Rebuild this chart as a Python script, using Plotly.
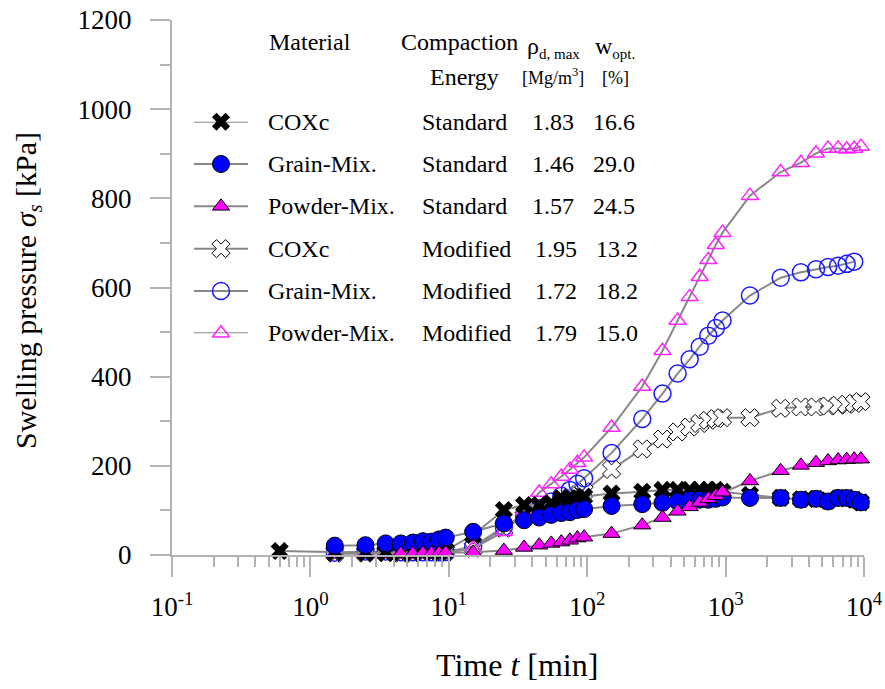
import plotly.graph_objects as go

# ---------------- data ----------------
time_coxc_std = [0.6, 1.5, 2.5, 3.5, 4.5, 5.5, 6.5, 7.5, 8.5, 9.5,
                 15, 25, 35, 45, 55, 65, 75, 85, 95,
                 150, 250, 350, 450, 550, 650, 750, 850, 950,
                 1500, 2500, 3500, 4500, 5500, 6500, 7500, 8500, 9500]
p_coxc_std = [9, 6, 5, 5, 6, 6, 7, 7, 8, 10,
              45, 101, 112, 112, 116, 127, 127, 127, 131,
              138, 142, 146, 146, 146, 146, 146, 146, 142,
              135, 128, 125, 126, 122, 127, 128, 124, 118]

time_grain_std = [1.5, 2.5, 3.5, 4.5, 5.5, 6.5, 7.5, 8.5, 9.5,
                  15, 25, 35, 45, 55, 65, 75, 85, 95,
                  150, 250, 350, 450, 550, 650, 750, 850, 950,
                  1500, 2500, 3500, 4500, 5500, 6500, 7500, 8500, 9500]
p_grain_std = [21, 22, 26, 26, 28, 31, 30, 35, 39,
               52, 71, 78, 84, 90, 94, 96, 101, 103,
               110, 114, 117, 120, 124, 124, 124, 126, 129,
               128, 128, 124, 126, 120, 128, 128, 124, 118]

time_powder_std = [4.5, 5.5, 6.5, 7.5, 8.5, 9.5,
                   15, 25, 35, 45, 55, 65, 75, 85, 95,
                   150, 250, 350, 450, 550, 650, 750, 850, 950,
                   1500, 2500, 3500, 4500, 5500, 6500, 7500, 8500, 9500]
p_powder_std = [3, 3, 4, 4, 4, 5,
                6, 10, 17, 22, 26, 29, 33, 38, 40,
                48, 67, 84, 98, 108, 118, 126, 133, 141,
                166, 189, 201, 207, 211, 213, 214, 215, 215]

time_coxc_mod = [1.5, 2.5, 3.5, 4.5, 5.5, 6.5, 7.5, 8.5, 9.5,
                 15, 25, 35, 45, 55, 65, 75, 85, 95,
                 150, 250, 350, 450, 550, 650, 750, 850, 950,
                 1500, 2500, 3500, 4500, 5500, 6500, 7500, 8500, 9500]
p_coxc_mod = [4, 4, 5, 4, 4, 5, 5, 6, 7,
              15, 60, 85, 100, 110, 120, 128, 135, 142,
              192, 238, 260, 276, 287, 295, 302, 306, 308,
              308, 329, 332, 332, 334, 336, 338, 340, 344]

time_grain_mod = [1.5, 2.5, 3.5, 4.5, 5.5, 6.5, 7.5, 8.5, 9.5,
                  15, 25, 35, 45, 55, 65, 75, 85, 95,
                  150, 250, 350, 450, 550, 650, 750, 850, 950,
                  1500, 2500, 3500, 4500, 5500, 6500, 7500, 8500]
p_grain_mod = [5, 8, 8, 6, 6, 6, 6, 6, 7,
               19, 63, 88, 105, 120, 133, 146, 160, 172,
               229, 305, 362, 407, 439, 467, 492, 509, 526,
               582, 622, 634, 641, 646, 649, 653, 658]

time_powder_mod = [1.5, 2.5, 3.5, 4.5, 5.5, 6.5, 7.5, 8.5, 9.5,
                   15, 25, 35, 45, 55, 65, 75, 85, 95,
                   150, 250, 350, 450, 550, 650, 750, 850, 950,
                   1500, 2500, 3500, 4500, 5500, 6500, 7500, 8500, 9500]
p_powder_mod = [3, 3, 3, 3, 3, 3, 4, 4, 5,
                15, 52, 100, 140, 159, 176, 192, 207, 219,
                286, 378, 458, 526, 579, 624, 662, 696, 723,
                806, 859, 880, 901, 912, 912, 910, 912, 916]

# legend table contents
materials = ["COXc", "Grain-Mix.", "Powder-Mix.", "COXc", "Grain-Mix.", "Powder-Mix."]
energies = ["Standard", "Standard", "Standard", "Modified", "Modified", "Modified"]
rho_dmax = ["1.83", "1.46", "1.57", "1.95", "1.72", "1.79"]
w_opt = ["16.6", "29.0", "24.5", "13.2", "18.2", "15.0"]

x_tickvals = [0.1, 1, 10, 100, 1000, 10000]
x_ticktext = ["10<sup>-1</sup>", "10<sup>0</sup>", "10<sup>1</sup>",
              "10<sup>2</sup>", "10<sup>3</sup>", "10<sup>4</sup>"]
y_tickvals = [0, 200, 400, 600, 800, 1000, 1200]

# ---------------- styling ----------------
FONT = "Liberation Serif"
AXIS_GRAY = "#b3b3b3"
LINE_GRAY = "#888888"

W, H = 885, 689
L, R, T, B = 172, 21, 20, 134
PW, PH = W - L - R, H - T - B


def px_x(p):
    return (p - L) / PW


def px_y(p):
    return (H - B - p) / PH


m_coxc_std = dict(symbol="x", size=16, color="black", line=dict(width=0))
m_grain_std = dict(symbol="circle", size=17, color="#0000ff", line=dict(color="black", width=1))
m_powder_std = dict(symbol="triangle-up", size=15, color="#ff00ff", line=dict(color="black", width=1))
m_coxc_mod = dict(symbol="x", size=16, color="white", line=dict(color="black", width=1))
m_grain_mod = dict(symbol="circle-open", size=17, color="#1a1aff", line=dict(width=1.5))
m_powder_mod = dict(symbol="triangle-up-open", size=15, color="#ff22ff", line=dict(width=1.5))

series = [
    (time_coxc_mod, p_coxc_mod, m_coxc_mod),
    (time_grain_mod, p_grain_mod, m_grain_mod),
    (time_powder_mod, p_powder_mod, m_powder_mod),
    (time_coxc_std, p_coxc_std, m_coxc_std),
    (time_grain_std, p_grain_std, m_grain_std),
    (time_powder_std, p_powder_std, m_powder_std),
]
legend_markers = [m_coxc_std, m_grain_std, m_powder_std, m_coxc_mod, m_grain_mod, m_powder_mod]

fig = go.Figure()
for t, p, m in series:
    fig.add_trace(go.Scatter(
        x=t, y=p, mode="lines+markers",
        line=dict(color=LINE_GRAY, width=2),
        marker=m, cliponaxis=False, showlegend=False,
    ))

# legend keys on a hidden overlay axis pair
for i, m in enumerate(legend_markers):
    fig.add_trace(go.Scatter(
        x=[0, 1], y=[i, i], mode="lines", line=dict(color=LINE_GRAY, width=2),
        xaxis="x2", yaxis="y2", showlegend=False, cliponaxis=False, hoverinfo="skip"))
    fig.add_trace(go.Scatter(
        x=[0.5], y=[i], mode="markers", marker=m,
        xaxis="x2", yaxis="y2", showlegend=False, cliponaxis=False, hoverinfo="skip"))

axis_common = dict(
    showline=True, linecolor=AXIS_GRAY, linewidth=2,
    ticks="outside", ticklen=20, tickwidth=2, tickcolor=AXIS_GRAY,
    showgrid=False, zeroline=False, automargin=False,
    tickfont=dict(family=FONT, size=27, color="black"),
)

fig.update_layout(
    template="none",
    width=W, height=H,
    margin=dict(l=L, r=R, t=T, b=B, autoexpand=False),
    paper_bgcolor="white", plot_bgcolor="white",
    font=dict(family=FONT, color="black"),
    xaxis=dict(
        type="log", range=[-1, 4],
        tickmode="array", tickvals=x_tickvals, ticktext=x_ticktext,
        minor=dict(tickmode="array",
                   tickvals=[k * 10 ** e for e in range(-1, 4) for k in range(2, 10)],
                   ticks="outside", ticklen=10, tickwidth=2, tickcolor=AXIS_GRAY,
                   showgrid=False),
        ticklabelstandoff=7,
        **axis_common,
    ),
    yaxis=dict(
        range=[0, 1200], tickmode="array", tickvals=y_tickvals,
        minor=dict(dtick=100, ticks="outside", ticklen=10, tickwidth=2, tickcolor=AXIS_GRAY,
                   showgrid=False),
        ticklabelstandoff=13,
        **axis_common,
    ),
    xaxis2=dict(domain=[px_x(194), px_x(248)], range=[0, 1], anchor="y2",
                visible=False, fixedrange=True),
    yaxis2=dict(domain=[px_y(333.3), px_y(121.7)], range=[5, 0], anchor="x2",
                visible=False, fixedrange=True),
)

ann = []


def text(s, xp, yp, size=24, xanchor="left", **kw):
    ann.append(dict(text=s, x=px_x(xp), y=px_y(yp), xref="paper", yref="paper",
                    xanchor=xanchor, yanchor="middle", showarrow=False,
                    font=dict(family=FONT, size=size, color="black"), **kw))


# axis titles
text("Time <i>t</i> [min]", 517, 665, size=32, xanchor="center")
text("Swelling pressure <i>σ<sub>s</sub></i> [kPa]", 28, 291, size=30,
     xanchor="center", textangle=-90)

# table header
text("Material", 267, 42)
text("Compaction", 399, 42)
text("Energy", 464, 77, xanchor="center")
text("ρ<sub><span style='font-size:15px'>d, max</span></sub>", 525, 47)
text("w<sub><span style='font-size:15px'>opt.</span></sub>", 593, 47)
text("[Mg/m<sup>3</sup>]", 553, 77, size=18, xanchor="center")
text("[%]", 615, 78, size=18, xanchor="center")

row_y0, row_dy = 121.7, 42.3
rho_x = [553, 553, 553, 556, 556, 556]
w_x = [614, 614, 614, 617, 617, 617]
for i in range(len(materials)):
    yy = row_y0 + i * row_dy
    text(materials[i], 266, yy)
    text(energies[i], 420, yy)
    text(rho_dmax[i], rho_x[i], yy, xanchor="center")
    text(w_opt[i], w_x[i], yy, xanchor="center")

fig.update_layout(annotations=ann)

fig.write_html("out.html")
